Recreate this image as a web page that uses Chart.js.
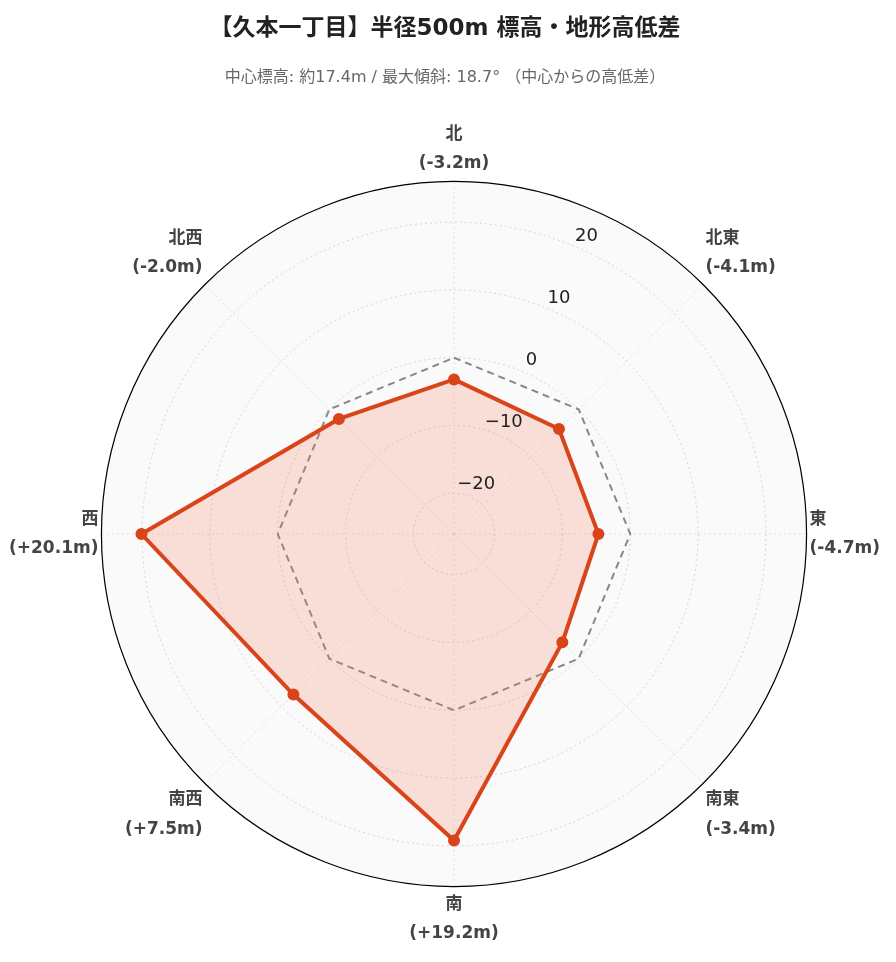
<!DOCTYPE html>
<html><head><meta charset="utf-8">
<script src="https://cdn.jsdelivr.net/npm/chart.js@4"></script>
<style>html,body{margin:0;background:#fff}#w{width:896px;height:962px}</style>
</head><body><div id="w"><canvas id="c"></canvas></div>
<script>
const directions = ['北','北東','東','南東','南','南西','西','北西'];
const diffs = [-3.2,-4.1,-4.7,-3.4,19.2,7.5,20.1,-2.0];
const reference = [0,0,0,0,0,0,0,0];
const tickValues = [-20,-10,0,10,20];
const labels = directions.map((d,i)=>[d,'('+(diffs[i]>=0?'+':'')+diffs[i].toFixed(1)+'m)']);
const FONT = "'DejaVu Sans','Noto Sans CJK JP',sans-serif";

const deco = {
  id:'deco',
  beforeDatasetsDraw(chart){
    const s=chart.scales.r, ctx=chart.ctx;
    ctx.save();
    ctx.beginPath();ctx.arc(s.xCenter,s.yCenter,s.drawingArea,0,Math.PI*2);
    ctx.strokeStyle='#000';ctx.lineWidth=1.2;ctx.stroke();
    ctx.restore();
  },
  beforeDraw(chart){
    const s=chart.scales.r, ctx=chart.ctx;
    ctx.save();
    ctx.beginPath();ctx.arc(s.xCenter,s.yCenter,s.drawingArea,0,Math.PI*2);
    ctx.fillStyle='#fafafa';ctx.fill();ctx.restore();
  },
  afterDraw(chart){
    const s=chart.scales.r, ctx=chart.ctx;
    ctx.save();
    ctx.font="18px "+FONT;ctx.fillStyle='#222';ctx.textAlign='center';ctx.textBaseline='middle';
    const th=24*Math.PI/180;
    tickValues.forEach(v=>{
      const r=s.getDistanceFromCenterForValue(v)+14;
      ctx.fillText(String(v).replace('-','\u2212'), s.xCenter+r*Math.sin(th), s.yCenter-r*Math.cos(th));
    });
    ctx.restore();
  }
};

new Chart(document.getElementById('c'),{
  type:'radar',
  data:{labels,datasets:[
    {data:diffs,borderColor:'#d9441a',backgroundColor:'rgba(245,120,90,0.22)',borderWidth:4,fill:'start',
     pointRadius:4,pointBackgroundColor:'#d9441a',pointBorderColor:'#d9441a',order:1},
    {data:reference,borderColor:'#888',borderDash:[7,5],borderWidth:2,fill:false,pointRadius:0,order:2}
  ]},
  options:{
    responsive:true,maintainAspectRatio:false,animation:false,
    layout:{padding:{left:0,right:6,top:0,bottom:0}},
    plugins:{legend:{display:false},tooltip:{enabled:false},
      title:{display:true,text:'【久本一丁目】半径500m 標高・地形高低差',font:{family:FONT,size:23,weight:'bold'},color:'#222',padding:{top:15,bottom:26}},
      subtitle:{display:true,text:'中心標高: 約17.4m / 最大傾斜: 18.7° （中心からの高低差）',font:{family:FONT,size:16},color:'#666',padding:{bottom:20}}
    },
    scales:{r:{min:-26,max:26,
      afterBuildTicks(a){a.ticks=tickValues.map(v=>({value:v}));},
      ticks:{display:false},
      grid:{circular:true,color:'#d4d4d4',lineWidth:1},
      border:{dash:[2,3]},
      angleLines:{color:'#e0e0e0',borderDash:[2,3]},
      pointLabels:{font:{family:FONT,size:17,weight:'bold',lineHeight:1.72},color:'#444',padding:3}
    }}
  },
  plugins:[deco]
});
</script></body></html>
